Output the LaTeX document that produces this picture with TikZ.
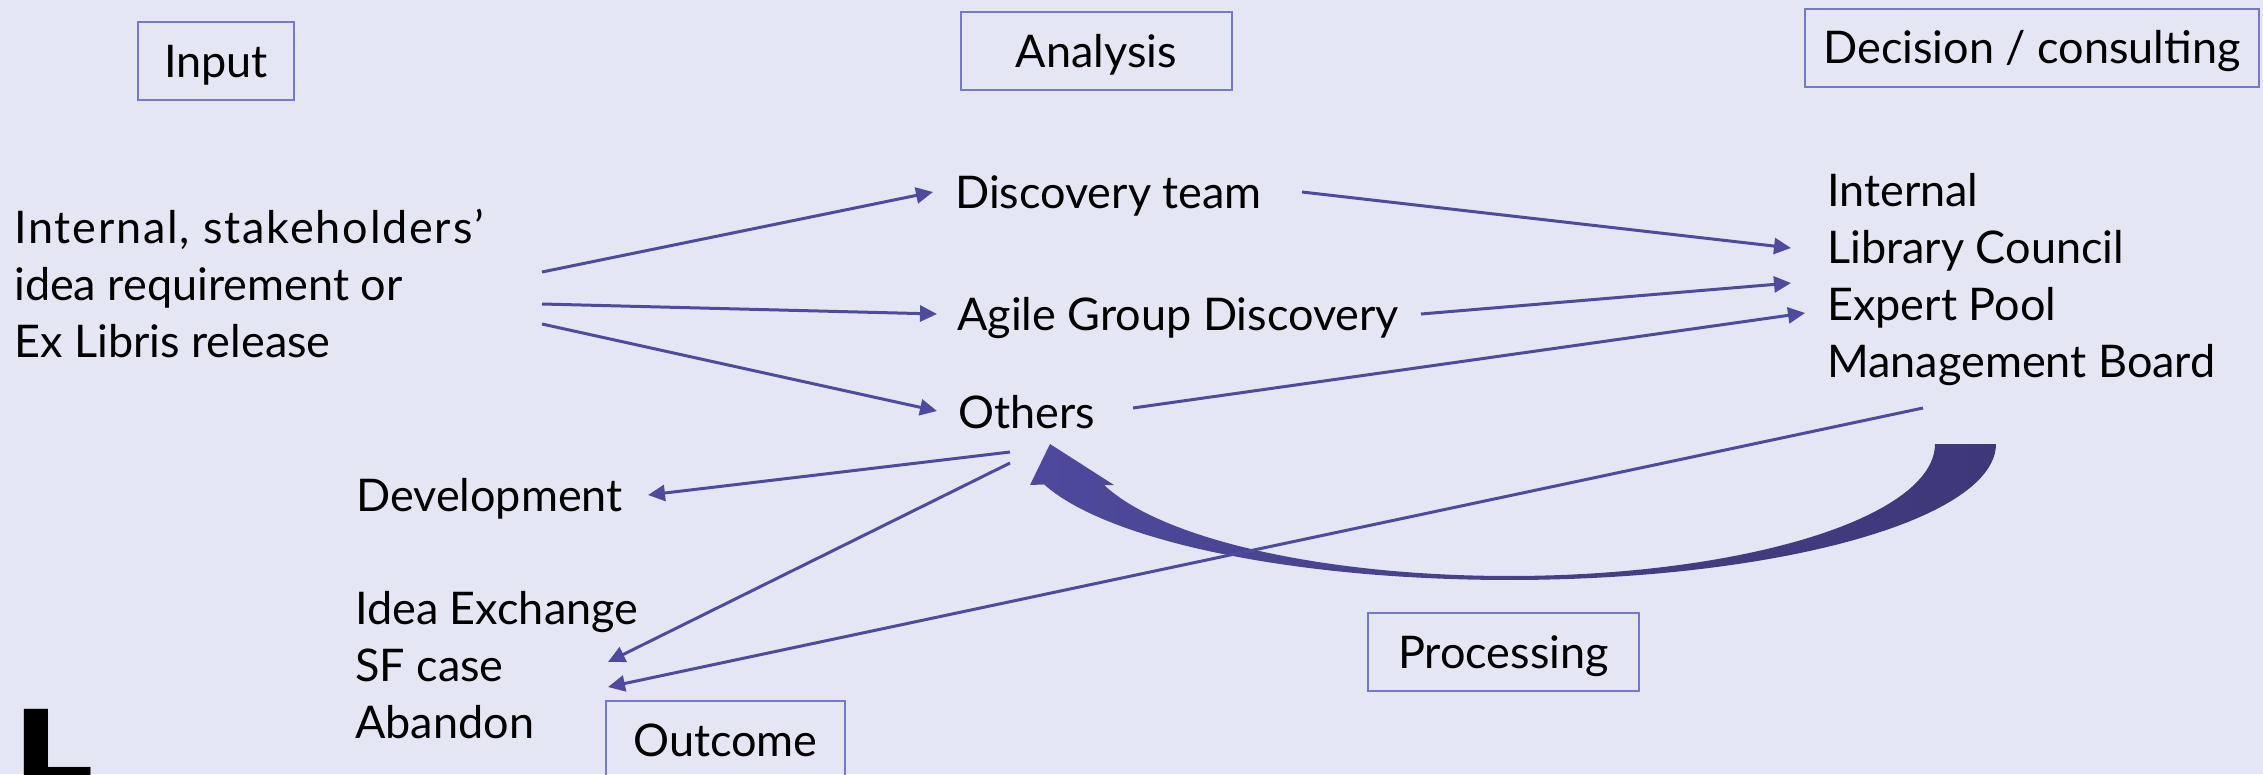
\documentclass[tikz,border=0pt]{standalone}
\usepackage{fontspec}
\setmainfont{Lato}
\newfontfamily\Lfont{DejaVu Sans}
\usetikzlibrary{arrows.meta}
\definecolor{bgc}{RGB}{228,230,243}
\definecolor{boxc}{RGB}{116,121,201}
\definecolor{arrc}{RGB}{78,75,158}
\definecolor{bigl}{RGB}{78,73,155}
\definecolor{bigr}{RGB}{61,56,119}
\begin{document}
\begin{tikzpicture}[x=1pt,y=-1pt,
  txt/.style={inner sep=0pt, anchor=base west, font=\fontsize{45pt}{57pt}\selectfont},
  multi/.style={txt, align=left},
  lbl/.style={draw=boxc, line width=2pt, inner sep=0pt, text height=42pt, text depth=10pt,
              minimum height=78pt, font=\fontsize{45pt}{57pt}\selectfont},
  conn/.style={draw=arrc, line width=3pt, -{Triangle[length=17pt,width=16pt]}}]
\fill[bgc] (0,0) rectangle (2263,774);
\useasboundingbox (0,0) rectangle (2263,774);

% category boxes
\node[lbl, minimum width=156pt] (inputbox) at (216,61) {Input};
\node[lbl, minimum width=271pt] (analysisbox) at (1096.5,51) {Analysis};
\node[lbl, minimum width=454pt] (decisionbox) at (2032,47.5) {Decision / consulting};
\node[lbl, minimum width=271pt] (processingbox) at (1503.5,652) {Processing};
\node[lbl, minimum width=239pt] (outcomebox) at (725.5,740) {Outcome};

% texts
\node[multi] (left) at (14,357) {{\addfontfeatures{LetterSpace=4}Internal, stakeholders’}\\idea requirement or\\Ex Libris release};
\node[txt] (disc) at (955,208) {Discovery team};
\node[txt] (agile) at (957,330) {Agile Group Discovery};
\node[txt] (others) at (958,428) {Others};
\node[multi] (council) at (1827,377) {Internal\\Library Council\\Expert Pool\\Management Board};
\node[txt] (dev) at (356,511) {Development};
\node[multi] (outc) at (355,738) {Idea Exchange\\SF case\\Abandon};

\node[inner sep=0pt, anchor=base west, font=\Lfont\bfseries\fontsize{99pt}{99pt}\selectfont] (logo) at (12.5,781) {\scalebox{1.3}[1]{L}};

% big curved arrow
\shade[left color=bigl, right color=bigr]
  plot[domain=0:162.7, samples=80] ({1509+487*cos(\x)},{444+136*sin(\x)})
  -- (1030,485) -- (1050,444) -- (1114,485) -- (1104,485)
  -- plot[domain=162:0, samples=80] ({1509+426*cos(\x)},{444+132*sin(\x)})
  -- cycle;

% connectors
\draw[conn] ([shift={(528,-85)}]left.base west) -- ([shift={(-22,-16)}]disc.base west);
\draw[conn] ([shift={(528,-53)}]left.base west) -- ([shift={(-20,-16)}]agile.base west);
\draw[conn] ([shift={(528,-33)}]left.base west) -- ([shift={(-21,-17)}]others.base west);
\draw[conn] ([shift={(347,-16)}]disc.base west) -- ([shift={(-36,-129)}]council.base west);
\draw[conn] ([shift={(464,-16)}]agile.base west) -- ([shift={(-36,-94)}]council.base west);
\draw[conn] ([shift={(175,-20)}]others.base west) -- ([shift={(-22,-64)}]council.base west);
\draw[conn] ([shift={(52,24)}]others.base west) -- ([shift={(292,-16)}]dev.base west);
\draw[conn] ([shift={(52,35)}]others.base west) -- ([shift={(253,-76)}]outc.base west);
\draw[conn] ([shift={(96,31)}]council.base west) -- ([shift={(253,-51)}]outc.base west);
\end{tikzpicture}
\end{document}
